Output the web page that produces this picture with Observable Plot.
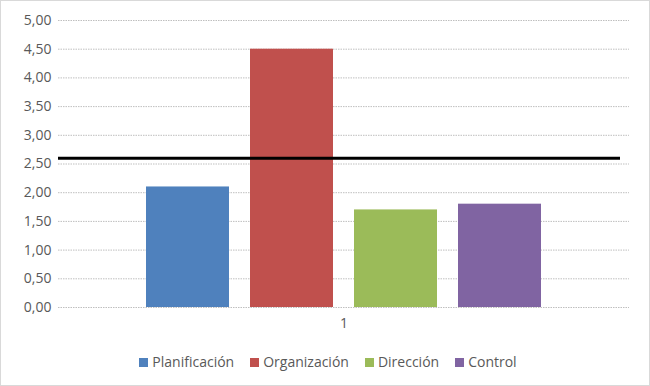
<!DOCTYPE html>
<html><head><meta charset="utf-8">
<script src="https://cdn.jsdelivr.net/npm/d3@7"></script>
<script src="https://cdn.jsdelivr.net/npm/@observablehq/plot@0.6"></script>
<style>
body{margin:0;background:#fff;}
#wrap{width:648px;height:384px;border:1px solid #d9d9d9;background:#fff;position:relative;overflow:hidden;font-family:"Open Sans","Noto Sans",sans-serif;}
#legend{display:flex;justify-content:center;gap:16px;font-size:14px;color:#595959;margin-top:13px;padding-left:6px;}
#legend span.sw{display:inline-block;width:9px;height:9px;margin-right:4px;vertical-align:middle;position:relative;top:-1px;}
</style></head>
<body><div id="wrap"></div>
<script>
const series = ["Planificación","Organización","Dirección","Control"];
const values = [2.10, 4.50, 1.70, 1.80];
const colors = ["#4F81BD","#C0504D","#9BBB59","#8064A2"];
const categories = ["1"];
const threshold = [2.6];
const yTicks = [0,0.5,1,1.5,2,2.5,3,3.5,4,4.5,5];

const data = series.map((s,i)=>({serie:s, value:values[i]}));
const fmt = d => d.toFixed(2).replace(".", ",");

const chart = Plot.plot({
  width: 648, height: 338,
  marginLeft: 57, marginRight: 20, marginTop: 19, marginBottom: 32,
  style: {fontFamily: '"Open Sans","Noto Sans",sans-serif', fontSize: "14px", color: "#595959", background: "#fff"},
  x: {domain: series, paddingInner: 0.2, paddingOuter: 0.845, axis: null},
  y: {domain: [0,5], ticks: yTicks, tickFormat: fmt, label: null, tickSize: 0, tickPadding: 8},
  color: {domain: series, range: colors},
  marks: [
    Plot.gridY(yTicks, {stroke: "#bfbfbf", strokeOpacity: 1, strokeDasharray: "1.5,1"}),
    Plot.axisY(yTicks, {tickFormat: fmt, tickSize: 0, tickPadding: 7, fill: "#595959", label: null, fontSize: 14}),
    Plot.barY(data, {x: "serie", y: "value", fill: "serie"}),
    Plot.ruleY(threshold, {stroke: "#000", strokeWidth: 3, insetRight: 9}),
    Plot.text(categories, {text: d => d, frameAnchor: "bottom", dy: 20, fill: "#595959", fontSize: 14})
  ]
});
const wrap = document.getElementById("wrap");
wrap.appendChild(chart);
const leg = document.createElement("div");
leg.id = "legend";
series.forEach((s,i)=>{
  const it = document.createElement("div");
  it.innerHTML = `<span class="sw" style="background:${colors[i]}"></span>${s}`;
  leg.appendChild(it);
});
wrap.appendChild(leg);
</script></body></html>
